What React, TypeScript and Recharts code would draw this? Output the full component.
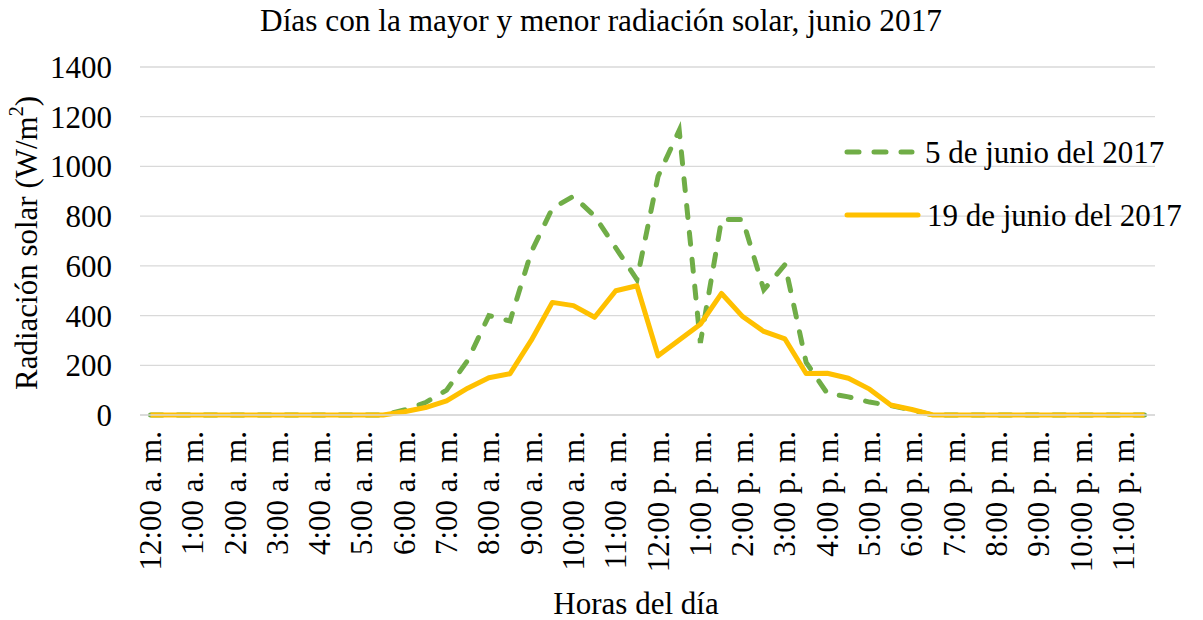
import React from "react";
import {
  LineChart,
  Line,
  XAxis,
  YAxis,
  CartesianGrid,
  Legend,
  Customized,
} from "recharts";

const horas = [
  "12:00 a. m.", "12:30 a. m.", "1:00 a. m.", "1:30 a. m.", "2:00 a. m.", "2:30 a. m.",
  "3:00 a. m.", "3:30 a. m.", "4:00 a. m.", "4:30 a. m.", "5:00 a. m.", "5:30 a. m.",
  "6:00 a. m.", "6:30 a. m.", "7:00 a. m.", "7:30 a. m.", "8:00 a. m.", "8:30 a. m.",
  "9:00 a. m.", "9:30 a. m.", "10:00 a. m.", "10:30 a. m.", "11:00 a. m.", "11:30 a. m.",
  "12:00 p. m.", "12:30 p. m.", "1:00 p. m.", "1:30 p. m.", "2:00 p. m.", "2:30 p. m.",
  "3:00 p. m.", "3:30 p. m.", "4:00 p. m.", "4:30 p. m.", "5:00 p. m.", "5:30 p. m.",
  "6:00 p. m.", "6:30 p. m.", "7:00 p. m.", "7:30 p. m.", "8:00 p. m.", "8:30 p. m.",
  "9:00 p. m.", "9:30 p. m.", "10:00 p. m.", "10:30 p. m.", "11:00 p. m.", "11:30 p. m.",
];

const junio5 = [
  0, 0, 0, 0, 0, 0, 0, 0, 0, 0, 0, 0,
  20, 50, 100, 220, 400, 378, 655, 832, 880, 800, 672, 545,
  960, 1145, 290, 786, 786, 504, 605, 212, 87, 73, 52, 38,
  20, 0, 0, 0, 0, 0, 0, 0, 0, 0, 0, 0,
];

const junio19 = [
  0, 0, 0, 0, 0, 0, 0, 0, 0, 0, 0, 0,
  13, 30, 57, 108, 150, 166, 300, 453, 440, 393, 500, 520,
  238, 302, 365, 489, 396, 336, 306, 167, 168, 148, 104, 40,
  22, 0, 0, 0, 0, 0, 0, 0, 0, 0, 0, 0,
];

const yTicks = [0, 200, 400, 600, 800, 1000, 1200, 1400];

const seriesNames = ["5 de junio del 2017", "19 de junio del 2017"];

const data = horas.map((h, i) => ({ hora: h, a: junio5[i], b: junio19[i] }));

const FONT = "'Liberation Serif', 'Times New Roman', serif";
const GREEN = "#70AD47";
const ORANGE = "#FFC000";
const GRID = "#D9D9D9";

const XTick = (props: any) => {
  const { x, y, payload } = props;
  return (
    <text
      x={x}
      y={y}
      transform={`rotate(-90 ${x} ${y})`}
      textAnchor="end"
      dominantBaseline="central"
      fontSize={31}
      fontFamily={FONT}
      fill="#000"
    >
      {payload.value}
    </text>
  );
};

const Texts = () => (
  <g fontFamily={FONT} fill="#000">
    <text x={601} y={20} textAnchor="middle" dominantBaseline="central" fontSize={31.3}>
      Días con la mayor y menor radiación solar, junio 2017
    </text>
    <text x={636} y={603} textAnchor="middle" dominantBaseline="central" fontSize={31}>
      Horas del día
    </text>
    <text
      x={26}
      y={243}
      transform="rotate(-90 26 243)"
      textAnchor="middle"
      dominantBaseline="central"
      fontSize={31}
    >
      Radiación solar (W/m
      <tspan fontSize={20} dy={-10}>2</tspan>
      <tspan dy={10}>)</tspan>
    </text>
  </g>
);

const LegendContent = () => (
  <svg width={360} height={110} style={{ overflow: "visible" }}>
    <g fontFamily={FONT} fontSize={31} fill="#000">
      <line
        x1={2}
        y1={24}
        x2={67}
        y2={24}
        stroke={GREEN}
        strokeWidth={5}
        strokeDasharray="12 15"
        strokeLinecap="round"
      />
      <text x={80} y={24} dominantBaseline="central">{seriesNames[0]}</text>
      <line
        x1={2}
        y1={87}
        x2={73}
        y2={87}
        stroke={ORANGE}
        strokeWidth={5}
        strokeLinecap="round"
      />
      <text x={82} y={87} dominantBaseline="central">{seriesNames[1]}</text>
    </g>
  </svg>
);

export default function App() {
  return (
    <div style={{ position: "absolute", left: 0, top: 0, background: "#fff" }}>
      <LineChart
        width={1203}
        height={620}
        data={data}
        margin={{ top: 67, right: 48, left: 0, bottom: 0 }}
      >
        <CartesianGrid vertical={false} stroke={GRID} strokeWidth={1.3} />
        <XAxis
          dataKey="hora"
          interval={1}
          tick={<XTick />}
          tickLine={false}
          tickMargin={10}
          axisLine={{ stroke: GRID, strokeWidth: 1.3 }}
          padding={{ left: 10.5, right: 10.5 }}
          height={205}
        />
        <YAxis
          domain={[0, 1400]}
          ticks={yTicks}
          width={140}
          axisLine={false}
          tickLine={false}
          tickSize={6}
          tickMargin={22}
          tick={{ fontSize: 31, fill: "#000", fontFamily: FONT }}
        />
        <Legend
          layout="horizontal"
          verticalAlign="middle"
          align="center"
          content={<LegendContent />}
          wrapperStyle={{ position: "absolute", left: 845, top: 128, width: 360, height: 110 }}
        />
        <Line
          type="linear"
          dataKey="a"
          name={seriesNames[0]}
          stroke={GREEN}
          strokeWidth={5}
          strokeDasharray="12 15"
          strokeLinecap="round"
          dot={false}
          isAnimationActive={false}
        />
        <Line
          type="linear"
          dataKey="b"
          name={seriesNames[1]}
          stroke={ORANGE}
          strokeWidth={5}
          strokeLinejoin="round"
          dot={false}
          isAnimationActive={false}
        />
        <Customized component={Texts} />
      </LineChart>
    </div>
  );
}
